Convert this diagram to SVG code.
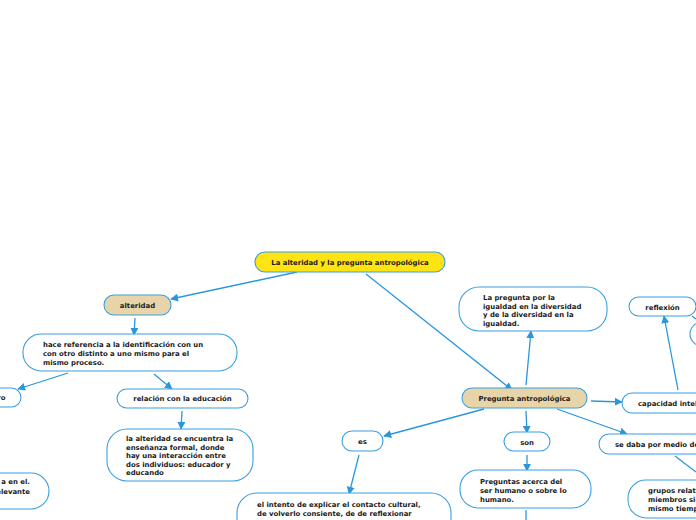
<svg xmlns="http://www.w3.org/2000/svg" width="696" height="520" viewBox="0 0 696 520">
<defs>
<marker id="ah" viewBox="0 0 10 10" refX="9" refY="5" markerWidth="8" markerHeight="8" markerUnits="userSpaceOnUse" orient="auto">
<path d="M0,0 L10,5 L0,10 z" fill="#2a97dd"/>
</marker>
<style>
.n{fill:#fff;stroke:#3a9fe0;stroke-width:1.1}
.m{fill:#e8d4a9;stroke:#3a9fe0;stroke-width:1.1}
.r{fill:#ffe414;stroke:#3a9fe0;stroke-width:1.1}
.c{fill:none;stroke:#2a97dd;stroke-width:1.3}
.a{marker-end:url(#ah)}
text{font-family:"DejaVu Sans",Verdana,sans-serif;font-weight:bold;font-size:6.9px;fill:#1a1a1a}
.t{text-anchor:middle}
</style>
</defs>
<rect width="696" height="520" fill="#fff"/>
<g id="connectors">
<line class="c a" x1="297" y1="272" x2="171" y2="299"/>
<line class="c a" x1="366" y1="274" x2="512" y2="390"/>
<line class="c a" x1="135" y1="318" x2="134" y2="335"/>
<line class="c a" x1="68" y1="373" x2="18" y2="389"/>
<line class="c a" x1="154" y1="374" x2="172" y2="389"/>
<line class="c a" x1="182" y1="411" x2="181" y2="429"/>
<line class="c a" x1="526" y1="385" x2="531" y2="331"/>
<line class="c a" x1="591" y1="401" x2="622" y2="402"/>
<line class="c a" x1="484" y1="409" x2="384" y2="436"/>
<line class="c a" x1="526" y1="411" x2="527" y2="433"/>
<line class="c a" x1="557" y1="409" x2="627" y2="434"/>
<line class="c a" x1="359" y1="455" x2="349" y2="494"/>
<line class="c a" x1="527" y1="455" x2="527" y2="471"/>
<line class="c a" x1="678" y1="390" x2="664" y2="316"/>
<line class="c" x1="675" y1="456" x2="696" y2="472"/>
<line class="c" x1="526" y1="510" x2="526" y2="520"/>
<line class="c" x1="692" y1="316" x2="696" y2="319"/>
</g>
<g id="root">
<rect class="r" x="255" y="252" width="190" height="20" rx="10"/>
<text class="t" x="350" y="264.5">La alteridad y la pregunta antropológica</text>
</g>
<g id="alteridad">
<rect class="m" x="104" y="295" width="67" height="20" rx="10"/>
<text class="t" x="137.5" y="307.5">alteridad</text>
</g>
<g id="hace">
<rect class="n" x="23" y="334" width="214" height="37" rx="18"/>
<text x="43" y="346.5">hace referencia a la identificación con un</text>
<text x="43" y="355.5">con otro distinto a uno mismo para el</text>
<text x="43" y="364.5">mismo proceso.</text>
</g>
<g id="otro">
<rect class="n" x="-60" y="388" width="81" height="19" rx="9.5"/>
<text x="5.5" y="400" text-anchor="end">otro</text>
</g>
<g id="relacion">
<rect class="n" x="117" y="389" width="131" height="19" rx="9.5"/>
<text class="t" x="182.5" y="401">relación con la educación</text>
</g>
<g id="laalteridad">
<rect class="n" x="107" y="429" width="146" height="52" rx="20"/>
<text x="126" y="441">la alteridad se encuentra la</text>
<text x="126" y="449.5">enseñanza formal, donde</text>
<text x="126" y="458">hay una interacción entre</text>
<text x="126" y="466.5">dos individuos: educador y</text>
<text x="126" y="475">educando</text>
</g>
<g id="relevante">
<rect class="n" x="-100" y="473" width="149" height="36" rx="18"/>
<text x="30" y="484" text-anchor="end">a en el.</text>
<text x="30" y="493.5" text-anchor="end">relevante</text>
</g>
<g id="es">
<rect class="n" x="342" y="431" width="41" height="20" rx="10"/>
<text class="t" x="362.5" y="443.5">es</text>
</g>
<g id="intento">
<rect class="n" x="237" y="493" width="214" height="50" rx="20"/>
<text x="257" y="507">el intento de explicar el contacto cultural,</text>
<text x="257" y="516">de volverlo consiente, de de reflexionar</text>
</g>
<g id="pregunta">
<rect class="m" x="462" y="388" width="125" height="20" rx="10"/>
<text class="t" x="524.5" y="400.5">Pregunta antropológica</text>
</g>
<g id="igualdad">
<rect class="n" x="459" y="287" width="148" height="44" rx="20"/>
<text x="483" y="300">La pregunta por la</text>
<text x="483" y="308.5">igualdad en la diversidad</text>
<text x="483" y="317">y de la diversidad en la</text>
<text x="483" y="325.5">igualdad.</text>
</g>
<g id="reflexion">
<rect class="n" x="629" y="297" width="67" height="19" rx="9.5"/>
<text class="t" x="662.5" y="309.5">reflexión</text>
</g>
<g id="offright">
<rect class="n" x="690" y="322" width="60" height="24" rx="12"/>
</g>
<g id="capacidad">
<rect class="n" x="622" y="393" width="110" height="20" rx="10"/>
<text x="638" y="405.5">capacidad intelectual</text>
</g>
<g id="sedaba">
<rect class="n" x="599" y="434" width="130" height="20" rx="10"/>
<text x="615" y="446.5">se daba por medio de</text>
</g>
<g id="grupos">
<rect class="n" x="628" y="480" width="120" height="38" rx="18"/>
<text x="648" y="493">grupos relativamente</text>
<text x="648" y="502">miembros similares al</text>
<text x="648" y="510.5">mismo tiempo</text>
</g>
<g id="son">
<rect class="n" x="504" y="432" width="46" height="19" rx="9.5"/>
<text class="t" x="527" y="444.5">son</text>
</g>
<g id="preguntas">
<rect class="n" x="460" y="470" width="131" height="38" rx="18"/>
<text x="480" y="484">Preguntas acerca del</text>
<text x="480" y="493">ser humano o sobre lo</text>
<text x="480" y="501.5">humano.</text>
</g>
</svg>
